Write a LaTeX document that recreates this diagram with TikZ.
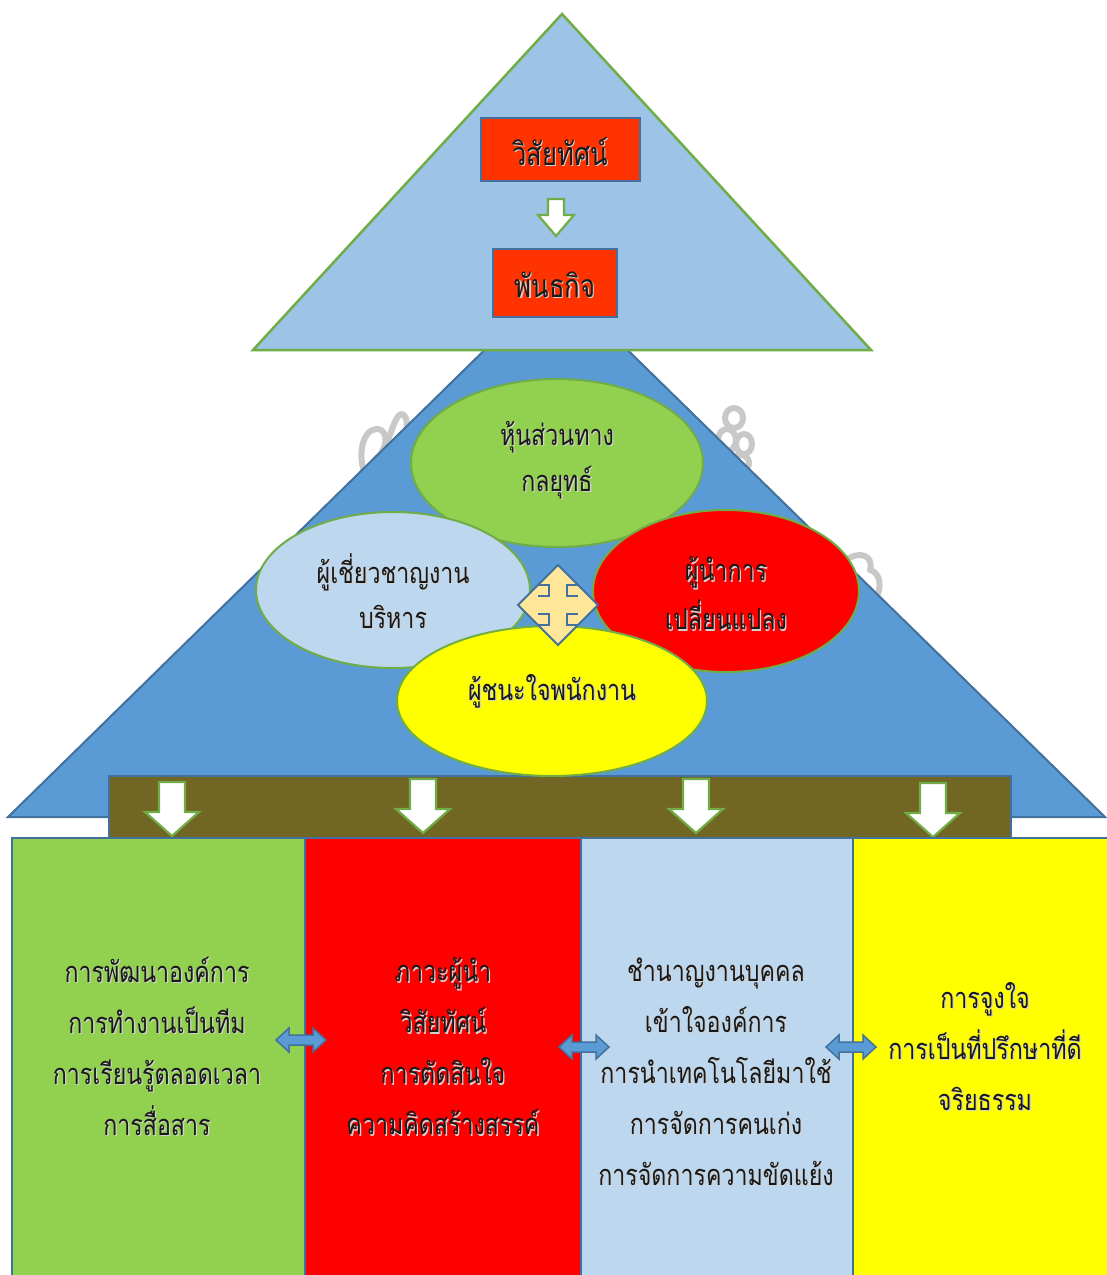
\documentclass[tikz,border=0pt]{standalone}
\usepackage{fontspec}
\newfontfamily\thai[Script=Thai, FakeStretch=0.8]{Loma}
\usetikzlibrary{shapes.geometric}

\definecolor{skyfill}{HTML}{9DC3E6}
\definecolor{leafline}{HTML}{70AD47}
\definecolor{steel}{HTML}{41719C}
\definecolor{pyramid}{HTML}{5B9BD5}
\definecolor{flame}{HTML}{FF3300}
\definecolor{olive}{RGB}{114,102,36}
\definecolor{leaf}{HTML}{92D050}
\definecolor{pale}{HTML}{BDD7EE}
\definecolor{sand}{HTML}{FFE699}
\definecolor{lemon}{HTML}{FFFF00}
\definecolor{scarlet}{HTML}{FF0000}
\definecolor{ghost}{RGB}{200,200,200}

% text with a soft drop shadow
\newcommand\shd[1]{\leavevmode\rlap{\kern1.3pt\raisebox{-1.3pt}{\color{black!18}#1}}#1}

\tikzset{
  txt/.style={align=center, text=black!90, inner sep=0pt,
    font={\thai\fontsize{29}{50}\selectfont}},
  boxtxt/.style={txt, font={\thai\fontsize{32}{50}\selectfont}},
  redbox/.style={draw=steel, line width=2pt, fill=flame, inner sep=0pt},
  oval/.style={ellipse, draw=leafline, line width=2pt, inner sep=0pt},
  column/.style={draw=steel, line width=2pt, inner sep=0pt, anchor=north west},
  blockarrow/.style={fill=white, draw=leafline, line width=2.2pt, line join=miter},
  twoway/.style={fill=pyramid, draw=steel, line width=1.5pt},
  dropdown/.pic={\path[blockarrow] (-13,0) -- (13,0) -- (13,30) -- (27,30) -- (0,54)
      -- (-27,30) -- (-13,30) -- cycle;},
  smalldrop/.pic={\path[blockarrow] (-8,0) -- (8,0) -- (8,16) -- (18,16) -- (0,37)
      -- (-18,16) -- (-8,16) -- cycle;},
  sideways/.pic={\path[twoway] (-25,0) -- (-12,-12) -- (-12,-5) -- (12,-5) -- (12,-12)
      -- (25,0) -- (12,12) -- (12,5) -- (-12,5) -- (-12,12) -- cycle;},
}

\begin{document}
\begin{tikzpicture}[x=1pt,y=-1pt]
\useasboundingbox (0,0) rectangle (1107,1275);
\fill[white] (0,0) rectangle (1107,1275);

% faint grey lettering peeking out behind the pyramid
\begin{scope}[draw=ghost, line width=6pt, line cap=round, line join=round]
  \draw (364,472) .. controls (356,445) and (368,424) .. (381,430)
        .. controls (390,436) and (384,452) .. (377,458);
  \draw (386,446) .. controls (392,430) and (396,414) .. (402,414)
        .. controls (408,416) and (408,428) .. (404,436);
  \draw (734,418) ellipse [x radius=9pt, y radius=10pt];
  \draw (727,440) ellipse [x radius=9pt, y radius=11pt];
  \draw (744,444) ellipse [x radius=8pt, y radius=10pt];
  \draw (741,463) ellipse [x radius=8pt, y radius=8pt];
  \draw (846,560) .. controls (860,550) and (874,556) .. (870,570)
        .. controls (878,572) and (882,582) .. (878,594);
\end{scope}

% lower pyramid
\path[fill=pyramid, draw=steel, line width=2pt] (8,817) -- (556,280) -- (1105,817) -- cycle;

% upper triangle with vision and mission
\path[fill=skyfill, draw=leafline, line width=2.5pt] (253,350) -- (562,14) -- (871,350) -- cycle;
\node[redbox, minimum width=159pt, minimum height=63pt] (vision) at (560.5,149.5) {};
\node[boxtxt] (visiontxt) at (560,152) {\shd{วิสัยทัศน์}};
\pic at (556,199) {smalldrop};
\node[redbox, minimum width=124pt, minimum height=68pt] (mission) at (555,283) {};
\node[boxtxt] (missiontxt) at (555,285) {\shd{พันธกิจ}};

% band carrying the four arrows
\node[draw=steel, line width=2pt, fill=olive, minimum width=902pt, minimum height=62pt,
      inner sep=0pt, anchor=north west] (band) at (108,775) {};

% four roles
\node[oval, fill=leaf, minimum width=292pt, minimum height=168pt] (partner) at (557,463) {};
\node[oval, fill=pale, minimum width=274pt, minimum height=156pt] (expert) at (393,590) {};
\node[oval, fill=scarlet, minimum width=266pt, minimum height=162pt] (change) at (726,591) {};
\node[oval, fill=lemon, minimum width=310pt, minimum height=150pt] (champion) at (552,701) {};
\node[txt, font={\thai\fontsize{29}{46}\selectfont}] (partnertxt) at (557,461) {\shd{หุ้นส่วนทาง}\\\shd{กลยุทธ์}};
\node[txt, font={\thai\fontsize{29}{45}\selectfont}] (experttxt) at (393,592) {\shd{ผู้เชี่ยวชาญงาน}\\\shd{บริหาร}};
\node[txt, font={\thai\fontsize{29}{49}\selectfont}] (changetxt) at (726,594) {\shd{ผู้นำการ}\\\shd{เปลี่ยนแปลง}};
\node[txt] (championtxt) at (552,692) {\shd{ผู้ชนะใจพนักงาน}};

% four-way arrow in the middle
\begin{scope}[shift={(558,605)}]
  \path[fill=sand, draw=steel, line width=2pt, line join=miter]
    (0,-40) -- (40,0) -- (0,40) -- (-40,0) -- cycle;
  \draw[steel, line width=2pt]
    (-20,-20) -- (-9,-20) -- (-9,-9) -- (-20,-9)
    (20,-20) -- (9,-20) -- (9,-9) -- (20,-9)
    (-20,20) -- (-9,20) -- (-9,9) -- (-20,9)
    (20,20) -- (9,20) -- (9,9) -- (20,9);
\end{scope}

% arrows down into the columns
\pic at (172,782) {dropdown};
\pic at (423,779) {dropdown};
\pic at (696,779) {dropdown};
\pic at (933,783) {dropdown};

% columns
\node[column, fill=leaf, minimum width=293pt, minimum height=450pt] (colA) at (11,837) {};
\node[column, fill=scarlet, minimum width=276pt, minimum height=450pt] (colB) at (304,837) {};
\node[column, fill=pale, minimum width=272pt, minimum height=450pt] (colC) at (580,837) {};
\node[column, fill=lemon, minimum width=270pt, minimum height=450pt] (colD) at (852,837) {};

\node[txt, font={\thai\fontsize{29}{51}\selectfont}] (colAtxt) at (157,1047)
  {\shd{การพัฒนาองค์การ}\\\shd{การทำงานเป็นทีม}\\\shd{การเรียนรู้ตลอดเวลา}\\\shd{การสื่อสาร}};
\node[txt, font={\thai\fontsize{29}{51}\selectfont}] (colBtxt) at (443,1047)
  {\shd{ภาวะผู้นำ}\\\shd{วิสัยทัศน์}\\\shd{การตัดสินใจ}\\\shd{ความคิดสร้างสรรค์}};
\node[txt, font={\thai\fontsize{29}{51}\selectfont}] (colCtxt) at (716,1072)
  {\shd{ชำนาญงานบุคคล}\\\shd{เข้าใจองค์การ}\\\shd{การนำเทคโนโลยีมาใช้}\\\shd{การจัดการคนเก่ง}\\\shd{การจัดการความขัดแย้ง}};
\node[txt, font={\thai\fontsize{29}{51}\selectfont}] (colDtxt) at (985,1047)
  {\shd{การจูงใจ}\\\shd{การเป็นที่ปรึกษาที่ดี}\\\shd{จริยธรรม}};

% links between neighbouring columns
\pic at (301,1040) {sideways};
\pic at (584,1047) {sideways};
\pic at (851,1047) {sideways};
\end{tikzpicture}
\end{document}
